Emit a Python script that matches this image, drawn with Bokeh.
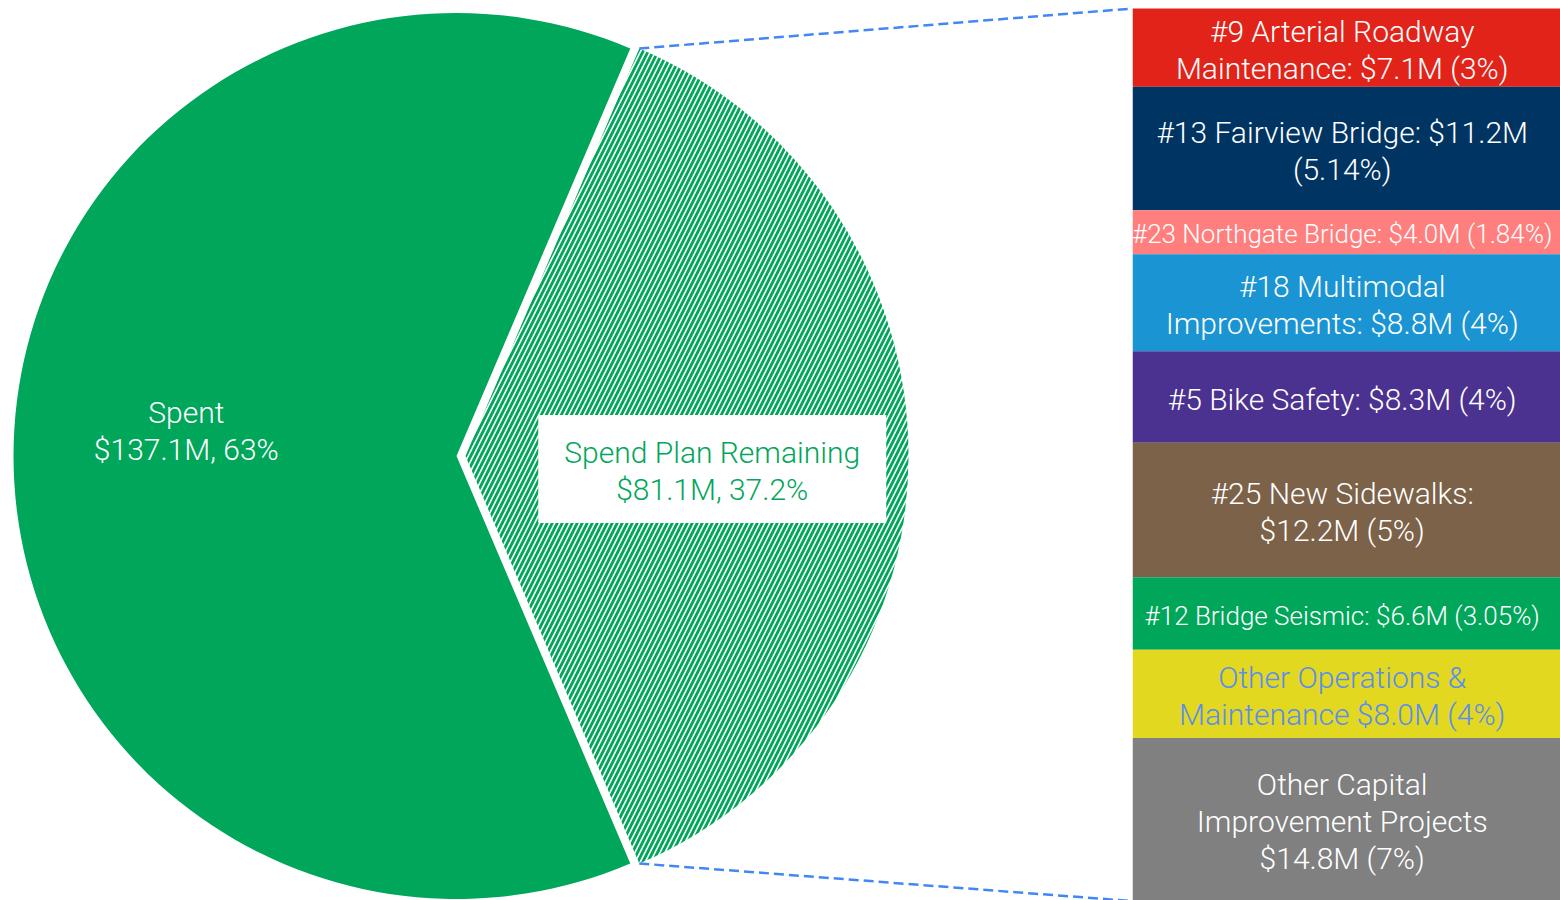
import numpy as np
from bokeh.plotting import figure
from bokeh.layouts import row
from bokeh.models import Range1d, ColumnDataSource
from bokeh.core.properties import value
from bokeh.embed import file_html
from bokeh.resources import INLINE

# ---------------- data ----------------
pie_labels = ["Spent", "Spend Plan Remaining"]
pie_values = [137.1, 81.1]
pie_pcts = ["63%", "37.2%"]

bar_labels = [
    "#9 Arterial Roadway\nMaintenance: $7.1M (3%)",
    "#13 Fairview Bridge: $11.2M\n(5.14%)",
    "#23 Northgate Bridge: $4.0M (1.84%)",
    "#18 Multimodal\nImprovements: $8.8M (4%)",
    "#5 Bike Safety: $8.3M (4%)",
    "#25 New Sidewalks:\n$12.2M (5%)",
    "#12 Bridge Seismic: $6.6M (3.05%)",
    "Other Operations &\nMaintenance $8.0M (4%)",
    "Other Capital\nImprovement Projects\n$14.8M (7%)",
]
bar_values = [7.1, 11.2, 4.0, 8.8, 8.3, 12.2, 6.6, 8.0, 14.8]
bar_colors = ["#E2231A", "#003462", "#FF7F7F", "#1A94D3", "#4B3190",
              "#7B6249", "#00A65A", "#E1D81F", "#808080"]
bar_text_colors = ["white"] * 7 + ["#5B8DEF", "white"]

GREEN = "#00A65A"
FONT = "Roboto Light, Roboto"
FS = "30px"
FS_LONG = "26px"
LH = 1.06

# ---------------- layout constants ----------------
W, H = 1560, 900
LW = 1132          # width of pie panel
RW = W - LW        # width of bar panel
cx, cy, R = 456, 900 - 455.5, 443
explode = 9
bar_top_px = 8
px_per_unit = 11.02

# ---------------- pie ----------------
vals = np.array(pie_values)
frac = vals / vals.sum()
rem_span = frac[1] * 2 * np.pi
start_rem = -rem_span / 2
end_rem = rem_span / 2
starts = [end_rem, start_rem]
ends = [start_rem + 2 * np.pi, end_rem]

p1 = figure(width=LW, height=H, x_range=Range1d(0, LW), y_range=Range1d(0, H),
            output_backend="svg", toolbar_location=None, min_border=0,
            outline_line_color=None, background_fill_color="white")
p1.axis.visible = False
p1.grid.visible = False

src = ColumnDataSource(dict(x=[cx, cx + explode], y=[cy, cy], s=starts, e=ends,
                            fill=[GREEN, "white"],
                            hatch=[" ", "/"]))
p1.wedge(x="x", y="y", radius=R, start_angle="s", end_angle="e",
         fill_color="fill", hatch_pattern="hatch", hatch_color=GREEN,
         hatch_scale=10, hatch_weight=2.8,
         line_color=None, source=src)

# connectors
total_bar = sum(bar_values)
bar_bottom_px = bar_top_px + total_bar * px_per_unit
ex = cx + explode
top_pt = (ex + R * np.cos(end_rem), cy + R * np.sin(end_rem))
bot_pt = (ex + R * np.cos(start_rem), cy + R * np.sin(start_rem))
p1.line([top_pt[0], LW], [top_pt[1], H - bar_top_px], line_color="#4287F5",
        line_width=2.5, line_dash="10 5")
p1.line([bot_pt[0], LW], [bot_pt[1], H - bar_bottom_px], line_color="#4287F5",
        line_width=2.5, line_dash="10 5")

# labels
mid_rem = 0.0
lx = ex + 0.557 * R * np.cos(mid_rem)
p1.rect(x=[lx], y=[cy - 13], width=348, height=108, fill_color="white",
        line_color=None)
p1.text(x=[lx], y=[cy - 15],
        text=[f"{pie_labels[1]}\n${pie_values[1]}M, {pie_pcts[1]}"],
        text_color=GREEN, text_font=value(FONT), text_font_size=FS,
        text_align="center", text_baseline="middle", text_line_height=LH)
sx = cx - 0.61 * R
p1.text(x=[sx], y=[cy + 25],
        text=[f"{pie_labels[0]}\n${pie_values[0]}M, {pie_pcts[0]}"],
        text_color="white", text_font=value(FONT), text_font_size=FS,
        text_align="center", text_baseline="middle", text_line_height=LH)

# ---------------- stacked bar ----------------
bv = np.array(bar_values)
tops = np.concatenate([[0], np.cumsum(bv)[:-1]])
bottoms = np.cumsum(bv)
y_start = (H - bar_top_px) / px_per_unit
y_end = -bar_top_px / px_per_unit

p2 = figure(width=RW, height=H, x_range=Range1d(0, 1),
            y_range=Range1d(y_start, y_end),
            output_backend="svg", toolbar_location=None, min_border=0,
            outline_line_color=None, background_fill_color="white")
p2.axis.visible = False
p2.grid.visible = False

sizes = [FS_LONG if ("\n" not in s and len(s) > 30) else FS for s in bar_labels]
bsrc = ColumnDataSource(dict(top=tops, bottom=bottoms, color=bar_colors,
                             label=bar_labels, tcolor=bar_text_colors,
                             size=sizes,
                             mid=(tops + bottoms) / 2 + 0.2,
                             xc=[0.49] * len(bar_values)))
p2.quad(left=0, right=1, top="top", bottom="bottom", fill_color="color",
        line_color=None, source=bsrc)
p2.text(x="xc", y="mid", text="label", text_color="tcolor",
        text_font=value(FONT), text_font_size="size", text_align="center",
        text_baseline="middle", text_line_height=LH, source=bsrc)

layout = row(p1, p2, spacing=0)
open("out.html", "w").write(file_html(layout, INLINE))
